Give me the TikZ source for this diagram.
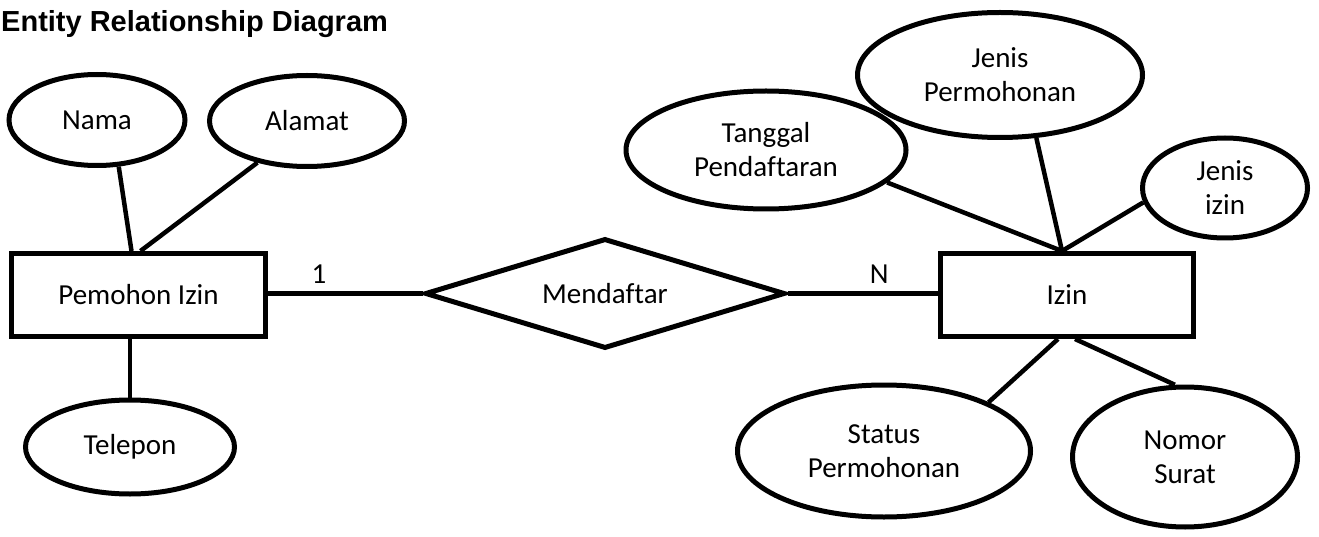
\documentclass[tikz,border=0pt]{standalone}
\usepackage{fontspec}
\setmainfont{Carlito}[Ligatures=NoCommon]
\newfontfamily\titlefont{Liberation Sans}
\usetikzlibrary{shapes.geometric,positioning}

\begin{document}
\begin{tikzpicture}[x=1pt,y=-1pt,
    attr/.style={ellipse,draw,line width=5pt,inner sep=0pt,align=center,
      font=\fontsize{29}{34}\selectfont},
    entity/.style={rectangle,draw,line width=5pt,inner sep=0pt,
      font=\fontsize{29}{34}\selectfont},
    rel/.style={diamond,draw,line width=5pt,inner sep=0pt,aspect=3,
      font=\fontsize{29}{34}\selectfont},
    link/.style={line width=4.5pt},
    card/.style={font=\fontsize{29}{34}\selectfont,inner sep=0pt}]
  \useasboundingbox (0,0) rectangle (1319,537);
  \node[anchor=base west,inner sep=0pt,font=\titlefont\bfseries\fontsize{29}{35}\selectfont]
    (title) at (1,32) {Entity Relationship Diagram};
  % entities and relationship
  \node[entity,minimum width=254,minimum height=83] (pemohon) at (138.5,295) {Pemohon Izin};
  \node[entity,minimum width=253,minimum height=83] (izin) at (1067,295) {Izin};
  \node[rel,minimum width=360,minimum height=110] (daftar) at (605,293.5) {Mendaftar};
  % attributes
  \node[attr,minimum width=176,minimum height=91] (nama) at (97,120) {Nama};
  \node[attr,minimum width=195,minimum height=91] (alamat) at (307,121) {Alamat};
  \node[attr,minimum width=209,minimum height=94] (telepon) at (130,447) {Telepon};
  \node[attr,minimum width=280,minimum height=118] (tanggal) at (766,150) {Tanggal\\Pendaftaran};
  \node[attr,minimum width=285,minimum height=125] (jenisper) at (1000,75) {Jenis\\Permohonan};
  \node[attr,minimum width=165,minimum height=100] (jenisizin) at (1225,188) {Jenis\\izin};
  \node[attr,minimum width=293,minimum height=132] (status) at (884,451) {Status\\Permohonan};
  \node[attr,minimum width=225,minimum height=140] (nomor) at (1185,457) {Nomor\\Surat};
  \coordinate (izintop) at ([xshift=-5]izin.north);
  % connectors
  \draw[link] (nama.-65) -- ([xshift=-7]pemohon.north);
  \draw[link] (alamat.-140) -- ([xshift=2]pemohon.north);
  \draw[link] (telepon.north) -- (telepon.north |- pemohon.south);
  \draw[link] (pemohon.east |- daftar.west) -- node[card,above=8pt,pos=.33] (one) {1} (daftar.west);
  \draw[link] (daftar.east) -- node[card,above=8pt,pos=.61] (many) {N} (izin.west |- daftar.east);
  \draw[link] (tanggal.-15) -- (izintop);
  \draw[link] (jenisper.-60) -- (izintop);
  \draw[link] (jenisizin.190) -- (izintop);
  \draw[link] (status.25) -- ([xshift=-9]izin.south);
  \draw[link] (nomor.98) -- ([xshift=8]izin.south);
\end{tikzpicture}
\end{document}
